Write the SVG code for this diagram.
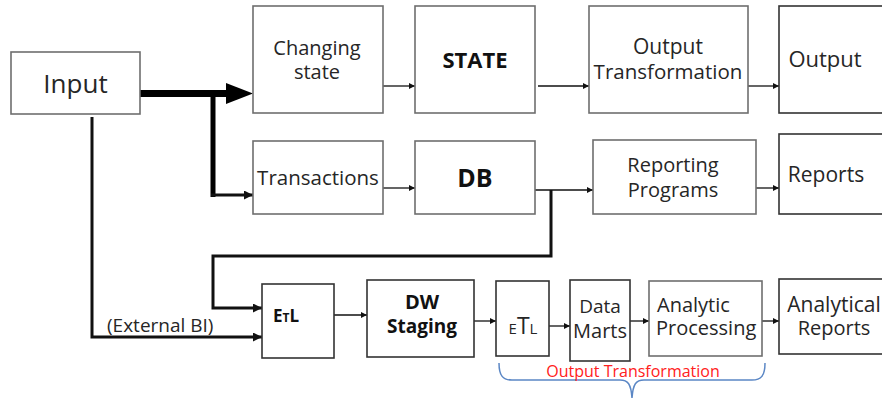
<svg xmlns="http://www.w3.org/2000/svg" width="882" height="398" viewBox="0 0 882 398">
<style>
svg{font-size:20px}
.box{fill:#fff;stroke:#6e6e6e;stroke-width:1.6}
.dk{stroke:#333}
.t{font-family:"Open Sans","Liberation Sans",sans-serif;fill:#262626;text-anchor:middle}
.s{text-anchor:start}
.b{font-weight:bold;fill:#111}
.red{fill:#ff2020}
.ln{fill:none;stroke:#111;stroke-width:1.3}
.th{fill:none;stroke:#111;stroke-width:3}
</style>
<defs>
<marker id="ah" viewBox="0 0 10 10" refX="10" refY="5" markerWidth="8" markerHeight="6" markerUnits="userSpaceOnUse" orient="auto"><path d="M0,0L10,5L0,10z" fill="#111"/></marker>
<marker id="ahb" viewBox="0 0 10 10" refX="10" refY="5" markerWidth="11" markerHeight="9" markerUnits="userSpaceOnUse" orient="auto"><path d="M0,0L10,5L0,10z" fill="#111"/></marker>
</defs>
<rect width="882" height="398" fill="#fff"/>
<g id="connectors">
<path d="M140,93.5H228" fill="none" stroke="#000" stroke-width="7"/>
<polygon points="226,83 253,93.5 226,104" fill="#000"/>
<path d="M213,91V197" fill="none" stroke="#000" stroke-width="5"/>
<path d="M211,195H253" class="th" marker-end="url(#ahb)"/>
<path d="M383,86H415" class="ln" marker-end="url(#ah)"/>
<path d="M538,86H589" class="ln" marker-end="url(#ah)"/>
<path d="M748,86H779" class="ln" marker-end="url(#ah)"/>
<path d="M383,188H415" class="ln" marker-end="url(#ah)"/>
<path d="M535,190H593" class="ln" marker-end="url(#ah)"/>
<path d="M756,188H779" class="ln" marker-end="url(#ah)"/>
<path d="M551,190V256H213V308H262" class="th" marker-end="url(#ahb)"/>
<path d="M92,117V337H262" class="th" marker-end="url(#ahb)"/>
<path d="M334,315H367" class="ln" marker-end="url(#ah)"/>
<path d="M474,321H496" class="ln" marker-end="url(#ah)"/>
<path d="M549,326H570" class="ln" stroke-width="2" marker-end="url(#ah)"/>
<path d="M630,321H649" class="ln" marker-end="url(#ah)"/>
<path d="M762,321H779" class="ln" marker-end="url(#ah)"/>
<text class="t s" x="107" y="332" font-size="19">(External BI)</text>
</g>
<g id="input"><rect class="box" x="11" y="52" width="129" height="62"/><text class="t" x="75.5" y="93" font-size="26">Input</text></g>
<g id="changing-state"><rect class="box" x="253" y="6" width="130" height="107"/><text class="t" x="317" y="55">Changing</text><text class="t" x="317" y="79">state</text></g>
<g id="state"><rect class="box" x="415" y="6" width="120" height="107"/><text class="t b" x="475" y="68" font-size="22">STATE</text></g>
<g id="output-transformation"><rect class="box" x="589" y="6" width="159" height="107"/><text class="t" x="668" y="54" font-size="21">Output</text><text class="t" x="668" y="79" font-size="20.5">Transformation</text></g>
<g id="output"><rect class="box dk" x="779" y="6" width="110" height="107"/><text class="t" x="825" y="67" font-size="22">Output</text></g>
<g id="transactions"><rect class="box" x="253" y="141" width="130" height="73"/><text class="t" x="318" y="185" font-size="20.5">Transactions</text></g>
<g id="db"><rect class="box" x="415" y="141" width="120" height="73"/><text class="t b" x="475" y="187" font-size="25">DB</text></g>
<g id="reporting-programs"><rect class="box" x="593" y="140" width="163" height="74"/><text class="t" x="673" y="172">Reporting</text><text class="t" x="673" y="197">Programs</text></g>
<g id="reports"><rect class="box dk" x="779" y="134" width="110" height="80"/><text class="t" x="826" y="182" font-size="21">Reports</text></g>
<g id="etl-1"><rect class="box dk" x="262" y="284" width="72" height="74"/><text class="t b s" x="273" y="322"><tspan font-size="17">E</tspan><tspan font-size="12">T</tspan><tspan font-size="17">L</tspan></text></g>
<g id="dw-staging"><rect class="box dk" x="367" y="280" width="107" height="77"/><text class="t b" x="422" y="309">DW</text><text class="t b" x="422" y="333" font-size="19">Staging</text></g>
<g id="etl-2"><rect class="box dk" x="496" y="281" width="53" height="75"/><text class="t" x="523" y="334"><tspan font-size="15">E</tspan><tspan font-size="23">T</tspan><tspan font-size="15">L</tspan></text></g>
<g id="data-marts"><rect class="box dk" x="570" y="280" width="60" height="81"/><text class="t" x="600" y="313" font-size="19">Data</text><text class="t" x="600" y="338" font-size="20">Marts</text></g>
<g id="analytic-processing"><rect class="box" x="649" y="281" width="113" height="75"/><text class="t s" x="657" y="312">Analytic</text><text class="t s" x="656" y="335">Processing</text></g>
<g id="analytical-reports"><rect class="box dk" x="779" y="279" width="110" height="75"/><text class="t" x="834" y="312" font-size="21">Analytical</text><text class="t" x="834" y="335">Reports</text></g>
<g id="brace">
<path d="M499,363C499,376 503,380 512,380H620C628,380 631,384 632,398M765,363C765,376 761,380 752,380H644C636,380 633,384 632,398" fill="none" stroke="#5b87c5" stroke-width="1.5"/>
<text class="t red" x="633" y="377" font-size="16">Output Transformation</text>
</g>
</svg>
